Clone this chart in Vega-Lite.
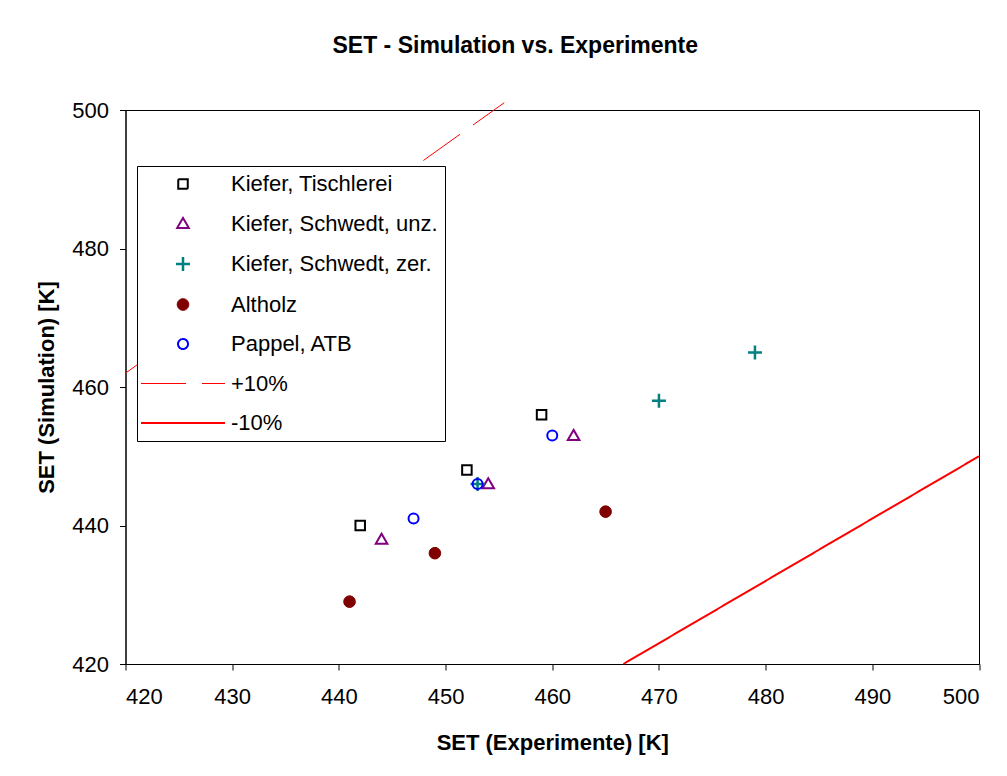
{
  "$schema": "https://vega.github.io/schema/vega-lite/v6.json",
  "width": 853.5,
  "height": 554,
  "autosize": {"type": "none"},
  "padding": {"left": 125.5, "top": 110, "right": 28, "bottom": 112},
  "background": "white",
  "title": {
    "text": "SET - Simulation vs. Experimente",
    "font": "Liberation Sans",
    "fontSize": 23,
    "fontWeight": "bold",
    "color": "#000000",
    "anchor": "middle",
    "frame": "group",
    "baseline": "alphabetic",
    "offset": 23,
    "dx": -37
  },
  "datasets": {
    "points": [
      {"series": "Kiefer, Tischlerei", "exp": 442, "sim": 440},
      {"series": "Kiefer, Tischlerei", "exp": 452, "sim": 448},
      {"series": "Kiefer, Tischlerei", "exp": 459, "sim": 456},
      {"series": "Kiefer, Schwedt, unz.", "exp": 444, "sim": 438},
      {"series": "Kiefer, Schwedt, unz.", "exp": 454, "sim": 446},
      {"series": "Kiefer, Schwedt, unz.", "exp": 462, "sim": 453},
      {"series": "Kiefer, Schwedt, zer.", "exp": 453, "sim": 446},
      {"series": "Kiefer, Schwedt, zer.", "exp": 470, "sim": 458},
      {"series": "Kiefer, Schwedt, zer.", "exp": 479, "sim": 465},
      {"series": "Altholz", "exp": 441, "sim": 429},
      {"series": "Altholz", "exp": 449, "sim": 436},
      {"series": "Altholz", "exp": 465, "sim": 442},
      {"series": "Pappel, ATB", "exp": 447, "sim": 441},
      {"series": "Pappel, ATB", "exp": 453, "sim": 446},
      {"series": "Pappel, ATB", "exp": 460, "sim": 453}
    ],
    "lines": [
      {"series": "+10%", "exp": 420, "sim": 462},
      {"series": "+10%", "exp": 455.5, "sim": 501.05},
      {"series": "-10%", "exp": 466.67, "sim": 420},
      {"series": "-10%", "exp": 500, "sim": 450}
    ]
  },
  "layer": [
    {
      "data": {"name": "lines"},
      "mark": {"type": "line", "clip": false},
      "encoding": {
        "strokeDash": {
          "field": "series",
          "type": "nominal",
          "scale": {
            "domain": ["Kiefer, Tischlerei", "Kiefer, Schwedt, unz.", "Kiefer, Schwedt, zer.", "Altholz", "Pappel, ATB", "+10%", "-10%"],
            "range": [[1, 0], [1, 0], [1, 0], [1, 0], [1, 0], [45, 16], [1, 0]]
          }
        }
      }
    },
    {
      "data": {"name": "points"},
      "mark": {"type": "point", "size": 4, "opacity": 1},
      "encoding": {
        "shape": {
          "field": "series",
          "type": "nominal",
          "scale": {
            "domain": ["Kiefer, Tischlerei", "Kiefer, Schwedt, unz.", "Kiefer, Schwedt, zer.", "Altholz", "Pappel, ATB", "+10%", "-10%"],
            "range": [
              "M-4.75,-4.75H4.75V4.75H-4.75Z",
              "M0,-5.6L5.8,4.4H-5.8Z",
              "M-7,0H7M0,-7V7",
              "M-5.8,0A5.8,5.8,0,1,0,5.8,0A5.8,5.8,0,1,0,-5.8,0Z",
              "M-5,0A5,5,0,1,0,5,0A5,5,0,1,0,-5,0Z",
              "M-42,0H42",
              "M-42,0H42"
            ]
          },
          "legend": {
            "orient": "none",
            "legendX": 11.5,
            "legendY": 56,
            "title": null,
            "padding": 7,
            "symbolOffset": 28,
            "symbolSize": 4,
            "labelOffset": 37,
            "rowPadding": 17.5,
            "labelFont": "Liberation Sans",
            "labelFontSize": 22,
            "labelColor": "#000000",
            "labelLimit": 400,
            "strokeColor": "#000000",
            "fillColor": "#ffffff"
          }
        },
        "fill": {
          "field": "series",
          "type": "nominal",
          "scale": {
            "domain": ["Kiefer, Tischlerei", "Kiefer, Schwedt, unz.", "Kiefer, Schwedt, zer.", "Altholz", "Pappel, ATB", "+10%", "-10%"],
            "range": ["transparent", "transparent", "transparent", "#800000", "transparent", "transparent", "transparent"]
          }
        }
      }
    }
  ],
  "encoding": {
    "x": {
      "field": "exp",
      "type": "quantitative",
      "title": "SET (Experimente) [K]",
      "scale": {"domain": [420, 500], "nice": false, "zero": false},
      "axis": {"values": [420, 430, 440, 450, 460, 470, 480, 490, 500], "labelPadding": 16.5, "titlePadding": 25}
    },
    "y": {
      "field": "sim",
      "type": "quantitative",
      "title": "SET (Simulation) [K]",
      "scale": {"domain": [420, 500], "nice": false, "zero": false},
      "axis": {"values": [420, 440, 460, 480, 500], "labelPadding": 11, "titlePadding": 13}
    },
    "stroke": {
      "field": "series",
      "type": "nominal",
      "scale": {
        "domain": ["Kiefer, Tischlerei", "Kiefer, Schwedt, unz.", "Kiefer, Schwedt, zer.", "Altholz", "Pappel, ATB", "+10%", "-10%"],
        "range": ["#000000", "#800080", "#008080", "#800000", "#0000ff", "#ff0000", "#ff0000"]
      }
    },
    "strokeWidth": {
      "field": "series",
      "type": "nominal",
      "scale": {
        "type": "ordinal",
        "domain": ["Kiefer, Tischlerei", "Kiefer, Schwedt, unz.", "Kiefer, Schwedt, zer.", "Altholz", "Pappel, ATB", "+10%", "-10%"],
        "range": [2, 2, 2.5, 1, 2, 1, 2]
      }
    }
  },
  "config": {
    "font": "Liberation Sans",
    "view": {"stroke": "#000000", "strokeWidth": 1},
    "axis": {
      "grid": false,
      "domainColor": "#000000",
      "tickColor": "#000000",
      "tickSize": 6,
      "labelFont": "Liberation Sans",
      "labelFontSize": 22,
      "labelColor": "#000000",
      "titleFont": "Liberation Sans",
      "titleFontSize": 22,
      "titleFontWeight": "bold",
      "titleColor": "#000000"
    }
  }
}
